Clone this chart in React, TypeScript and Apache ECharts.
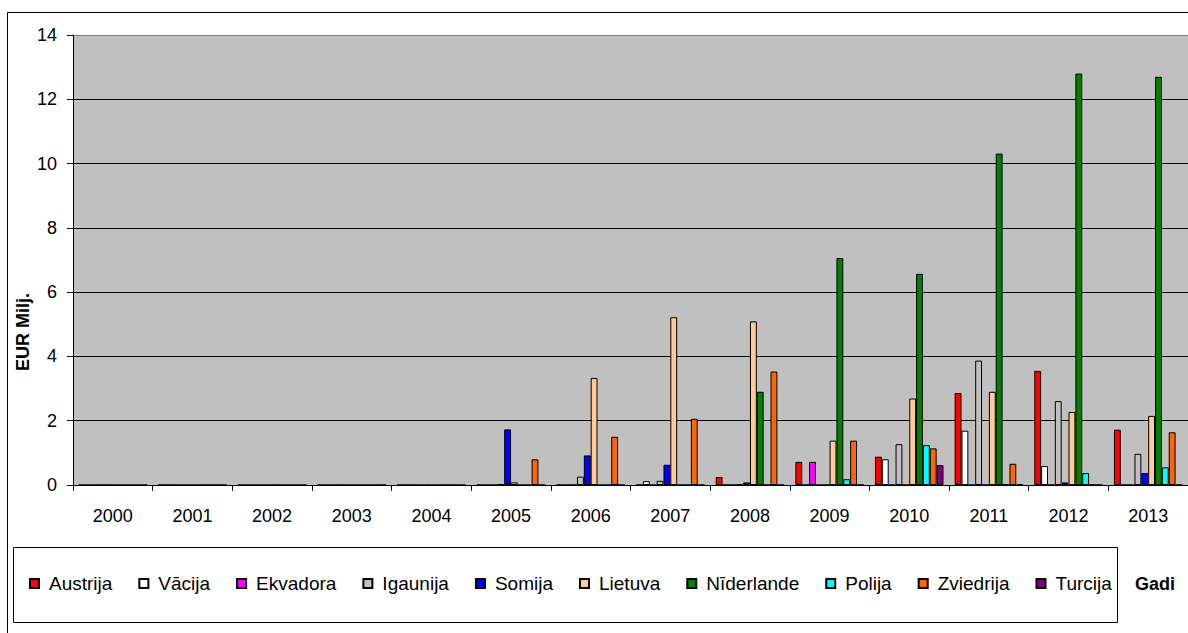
import React, { useEffect, useRef } from "react";
import * as echarts from "echarts";

const years = ["2000", "2001", "2002", "2003", "2004", "2005", "2006", "2007", "2008", "2009", "2010", "2011", "2012", "2013"];

const austrija = [0, 0, 0, 0, 0, 0, 0, 0, 0.25, 0.72, 0.88, 2.86, 3.55, 1.72];
const vacija = [0, 0, 0, 0, 0, 0, 0, 0.12, 0, 0, 0.8, 1.69, 0.59, 0];
const ekvadora = [0, 0, 0, 0, 0, 0, 0, 0, 0, 0.72, 0, 0, 0, 0];
const igaunija = [0, 0, 0, 0, 0, 0.03, 0.26, 0.13, 0.02, 0, 1.27, 3.87, 2.61, 0.97];
const somija = [0, 0, 0, 0, 0, 1.73, 0.92, 0.63, 0.08, 0, 0, 0, 0.08, 0.37];
const lietuva = [0, 0, 0, 0, 0, 0.08, 3.33, 5.22, 5.09, 1.38, 2.69, 2.9, 2.27, 2.15];
const niderlande = [0, 0, 0, 0, 0, 0, 0, 0, 2.9, 7.06, 6.57, 10.31, 12.8, 12.7];
const polija = [0, 0, 0, 0, 0, 0, 0, 0, 0, 0.18, 1.24, 0.02, 0.37, 0.55];
const zviedrija = [0, 0, 0, 0, 0, 0.8, 1.5, 2.06, 3.53, 1.38, 1.14, 0.66, 0.03, 1.64];
const turcija = [0, 0, 0, 0, 0, 0, 0, 0, 0, 0, 0.62, 0.02, 0, 0];

const seriesNames = ["Austrija", "Vācija", "Ekvadora", "Igaunija", "Somija", "Lietuva", "Nīderlande", "Polija", "Zviedrija", "Turcija"];
const seriesData = [austrija, vacija, ekvadora, igaunija, somija, lietuva, niderlande, polija, zviedrija, turcija];
const seriesColors = ["#FF0000", "#FFFFFF", "#FF00FF", "#C0C0C0", "#0000FF", "#FFCC99", "#008000", "#00FFFF", "#FF6600", "#800080"];

const yTicks = [0, 2, 4, 6, 8, 10, 12, 14];

const FONT = "Arial, 'Liberation Sans', sans-serif";

export default function App() {
  const ref = useRef<HTMLDivElement>(null);

  useEffect(() => {
    if (!ref.current) return;
    const chart = echarts.init(ref.current, null, { renderer: "svg" });
    const option = {
      animation: false,
      backgroundColor: "#FFFFFF",
      textStyle: { fontFamily: FONT, color: "#000" },
      grid: {
        left: 73,
        top: 35,
        bottom: 148,
        right: -10.6,
        show: true,
        backgroundColor: "#C0C0C0",
        borderWidth: 0,
      },
      legend: {
        left: 29,
        top: 574,
        itemWidth: 9,
        itemHeight: 9,
        itemGap: 26,
        icon: "rect",
        padding: 0,
        textStyle: { fontFamily: FONT, fontSize: 19, color: "#000", padding: [0, 0, 0, 5] },
        data: seriesNames,
      },
      xAxis: {
        type: "category",
        data: years,
        axisLine: { lineStyle: { color: "#000", width: 1 } },
        axisTick: { show: true, length: 6, lineStyle: { color: "#000" } },
        axisLabel: { fontFamily: FONT, fontSize: 18, color: "#000", margin: 22 },
        splitLine: { show: false },
      },
      yAxis: {
        type: "value",
        min: 0,
        max: 14,
        interval: 2,
        axisLine: { show: true, lineStyle: { color: "#000", width: 1 } },
        axisTick: { show: true, length: 6, lineStyle: { color: "#000" } },
        axisLabel: {
          fontFamily: FONT,
          fontSize: 18,
          color: "#000",
          margin: 16,
          formatter: (v: number) => (yTicks.includes(v) ? String(v) : ""),
        },
        splitLine: {
          show: true,
          lineStyle: { color: ["#000", "#000", "#000", "#000", "#000", "#000", "#000", "#808080"], width: 1 },
        },
      },
      series: seriesNames.map((name, i) => ({
        name,
        type: "bar",
        data: seriesData[i],
        barGap: "0%",
        barCategoryGap: "14%",
        itemStyle: { color: seriesColors[i], borderColor: "#000", borderWidth: 1 },
      })),
      graphic: [
        {
          type: "rect",
          shape: { x: 7.5, y: 12.5, width: 1300, height: 700 },
          style: { fill: "none", stroke: "#000", lineWidth: 1 },
          silent: true,
          z: 100,
        },
        {
          type: "rect",
          shape: { x: 13.5, y: 547.5, width: 1104, height: 75 },
          style: { fill: "none", stroke: "#000", lineWidth: 1 },
          silent: true,
          z: 100,
        },
        {
          type: "text",
          x: 1135,
          y: 584,
          style: { text: "Gadi", font: "bold 18px " + FONT, fill: "#000", align: "left", verticalAlign: "middle" },
          z: 100,
        },
        {
          type: "text",
          x: 23,
          y: 332,
          rotation: Math.PI / 2,
          style: { text: "EUR Milj.", font: "bold 18px " + FONT, fill: "#000", align: "center", verticalAlign: "middle" },
          z: 100,
        },
      ],
    };
    chart.setOption(option as any);
    return () => chart.dispose();
  }, []);

  return <div ref={ref} style={{ position: "fixed", left: 0, top: 0, width: 1188, height: 633 }} />;
}
